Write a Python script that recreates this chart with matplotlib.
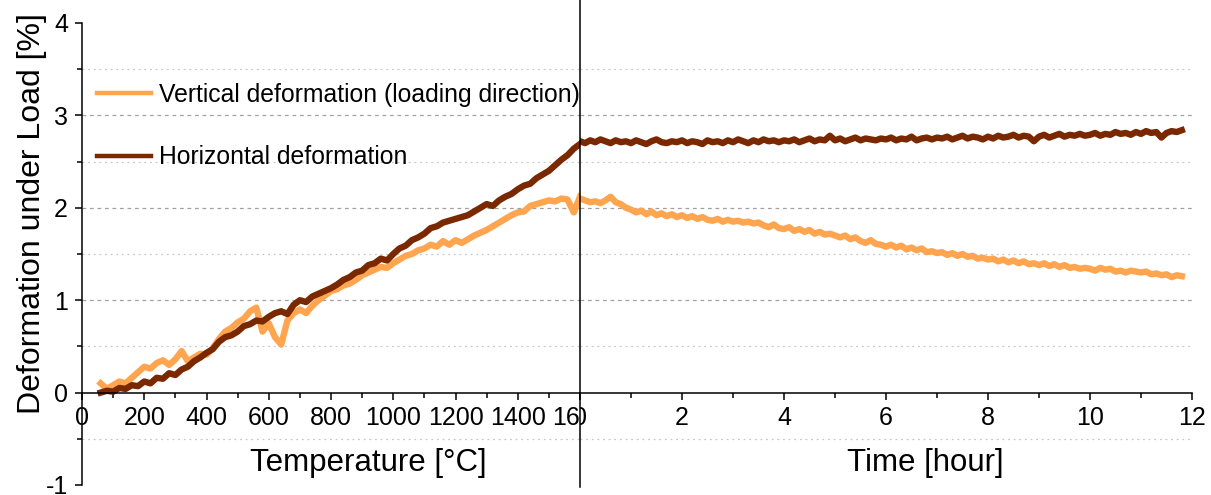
import numpy as np
import matplotlib
matplotlib.use('Agg')
import matplotlib.pyplot as plt
from matplotlib.ticker import MultipleLocator
from matplotlib.transforms import Bbox, TransformedBbox, blended_transform_factory

plt.rcParams['font.family'] = ['Liberation Sans', 'DejaVu Sans']
plt.rcParams['axes.unicode_minus'] = False

# heating stage: temperature [C] vs deformation [%]
temperature = np.arange(60, 1601, 20)
horizontal_temp = [0.00, 0.02, 0.01, 0.05, 0.04, 0.08, 0.07, 0.12, 0.10, 0.16,
                   0.15, 0.21, 0.19, 0.25, 0.28, 0.34, 0.38, 0.43, 0.47, 0.55,
                   0.60, 0.62, 0.66, 0.72, 0.74, 0.78, 0.77, 0.82, 0.86, 0.88,
                   0.85, 0.95, 1.00, 0.98, 1.04, 1.07, 1.10, 1.13, 1.17, 1.22,
                   1.25, 1.30, 1.32, 1.38, 1.40, 1.45, 1.43, 1.50, 1.56, 1.59,
                   1.65, 1.68, 1.72, 1.78, 1.80, 1.84, 1.86, 1.88, 1.90, 1.92,
                   1.96, 2.00, 2.04, 2.02, 2.08, 2.12, 2.15, 2.20, 2.24, 2.26,
                   2.32, 2.36, 2.40, 2.46, 2.52, 2.57, 2.64, 2.69]
vertical_temp = [0.10, 0.04, 0.08, 0.12, 0.10, 0.16, 0.22, 0.28, 0.26, 0.32,
                 0.35, 0.30, 0.36, 0.45, 0.34, 0.38, 0.42, 0.41, 0.48, 0.58,
                 0.66, 0.70, 0.76, 0.80, 0.88, 0.92, 0.66, 0.75, 0.60, 0.52,
                 0.78, 0.86, 0.90, 0.86, 0.94, 1.00, 1.05, 1.10, 1.12, 1.16,
                 1.18, 1.22, 1.27, 1.30, 1.33, 1.36, 1.35, 1.40, 1.44, 1.48,
                 1.50, 1.54, 1.56, 1.60, 1.58, 1.64, 1.60, 1.65, 1.62, 1.66,
                 1.70, 1.73, 1.76, 1.80, 1.84, 1.88, 1.92, 1.95, 1.96, 2.02,
                 2.04, 2.06, 2.08, 2.07, 2.10, 2.09, 1.95, 2.12]

# holding stage: time [hour] vs deformation [%]
time_h = np.round(np.arange(0, 11.85, 0.1), 1)
horizontal_time = [2.72, 2.70, 2.73, 2.71, 2.74, 2.72, 2.70, 2.73, 2.71, 2.72,
                   2.70, 2.73, 2.71, 2.69, 2.72, 2.74, 2.71, 2.70, 2.72, 2.71,
                   2.73, 2.70, 2.72, 2.71, 2.69, 2.73, 2.71, 2.72, 2.70, 2.73,
                   2.71, 2.74, 2.72, 2.70, 2.73, 2.71, 2.74, 2.72, 2.73, 2.71,
                   2.73, 2.72, 2.74, 2.71, 2.73, 2.75, 2.72, 2.74, 2.73, 2.78,
                   2.73, 2.75, 2.72, 2.74, 2.76, 2.73, 2.75, 2.74, 2.73, 2.75,
                   2.74, 2.76, 2.73, 2.75, 2.74, 2.77, 2.73, 2.75, 2.76, 2.74,
                   2.76, 2.75, 2.77, 2.74, 2.76, 2.78, 2.75, 2.77, 2.76, 2.74,
                   2.77, 2.75, 2.78, 2.76, 2.77, 2.79, 2.76, 2.78, 2.77, 2.72,
                   2.77, 2.79, 2.76, 2.78, 2.80, 2.77, 2.79, 2.78, 2.80, 2.78,
                   2.79, 2.81, 2.78, 2.80, 2.79, 2.82, 2.80, 2.81, 2.79, 2.82,
                   2.80, 2.83, 2.81, 2.82, 2.76, 2.81, 2.83, 2.82, 2.84]
vertical_time = [2.10, 2.08, 2.06, 2.07, 2.05, 2.08, 2.12, 2.06, 2.04, 2.00,
                 1.98, 1.95, 1.97, 1.93, 1.96, 1.92, 1.94, 1.91, 1.93, 1.90,
                 1.92, 1.89, 1.91, 1.88, 1.90, 1.87, 1.86, 1.88, 1.85, 1.87,
                 1.85, 1.86, 1.84, 1.85, 1.83, 1.84, 1.81, 1.79, 1.82, 1.78,
                 1.77, 1.79, 1.75, 1.77, 1.74, 1.76, 1.72, 1.74, 1.71, 1.72,
                 1.70, 1.68, 1.70, 1.66, 1.68, 1.64, 1.62, 1.65, 1.61, 1.60,
                 1.58, 1.60, 1.57, 1.59, 1.55, 1.57, 1.54, 1.56, 1.52, 1.53,
                 1.51, 1.52, 1.49, 1.51, 1.48, 1.50, 1.47, 1.48, 1.45, 1.46,
                 1.44, 1.45, 1.42, 1.44, 1.41, 1.43, 1.40, 1.42, 1.39, 1.40,
                 1.38, 1.40, 1.37, 1.39, 1.36, 1.38, 1.35, 1.36, 1.34, 1.35,
                 1.34, 1.32, 1.35, 1.33, 1.34, 1.31, 1.32, 1.30, 1.32, 1.31,
                 1.30, 1.31, 1.28, 1.29, 1.27, 1.28, 1.25, 1.27, 1.26]

major_grid = [1, 2, 3]
minor_grid = [-0.5, 0.5, 1.5, 2.5, 3.5]

orange = '#FFA54F'
brown = '#7A2800'
lw = 4.6

fig = plt.figure(figsize=(12.11, 4.95), dpi=100)
ax1 = fig.add_axes([82 / 1211, 10 / 495, 498 / 1211, 462 / 495])
ax2 = fig.add_axes([580 / 1211, 10 / 495, 612 / 1211, 462 / 495])

for ax in (ax1, ax2):
    ax.set_ylim(-1, 4)
    for g in major_grid:
        ax.axhline(g, color='#a0a0a0', lw=0.9, ls=(0, (3, 3)), zorder=0)
    for g in minor_grid:
        ax.axhline(g, color='#c8c8c8', lw=0.9, ls=(0, (1.5, 3)), zorder=0)
    ax.spines['top'].set_visible(False)
    ax.spines['right'].set_visible(False)
    ax.spines['bottom'].set_position(('data', 0))
    ax.spines['bottom'].set_linewidth(1.1)
    ax.spines['left'].set_linewidth(1.1)
    ax.tick_params(axis='both', which='major', direction='out', length=5,
                   width=1.1, labelsize=18, pad=5)
    ax.tick_params(axis='both', which='minor', direction='out', length=3.5,
                   width=1.1)

# left panel
ax1.plot(temperature, vertical_temp, color=orange, lw=lw,
         solid_joinstyle='round', label='Vertical deformation (loading direction)')
ax1.plot(temperature, horizontal_temp, color=brown, lw=lw,
         solid_joinstyle='round', label='Horizontal deformation')
ax1.set_xlim(0, 1600)
ax1.xaxis.set_major_locator(MultipleLocator(200))
ax1.xaxis.set_minor_locator(MultipleLocator(100))
ax1.yaxis.set_major_locator(MultipleLocator(1))
ax1.yaxis.set_minor_locator(MultipleLocator(0.5))
ax1.set_ylabel('Deformation under Load [%]', fontsize=23, va='center')
ax1.yaxis.set_label_coords(-0.1, 0.587)
ax1.text(0.574, -0.76, 'Temperature [°C]', fontsize=22.5, ha='center', va='center',
         transform=blended_transform_factory(ax1.transAxes, ax1.transData))

leg = ax1.legend(loc='upper left', bbox_to_anchor=(0.03, 0.87), frameon=False,
                 fontsize=17.8, handlelength=2.2, handletextpad=0.3,
                 labelspacing=1.55, borderpad=0, borderaxespad=0)
for h in leg.get_lines():
    h.set_linewidth(3.2)

# right panel
ax2.plot(time_h, vertical_time, color=orange, lw=lw, solid_joinstyle='round')
ax2.plot(time_h, horizontal_time, color=brown, lw=lw, solid_joinstyle='round')
ax2.set_xlim(0, 12)
ax2.xaxis.set_major_locator(MultipleLocator(2))
ax2.xaxis.set_minor_locator(MultipleLocator(1))
ax2.spines['left'].set_visible(False)
ax2.tick_params(axis='y', which='both', left=False, labelleft=False)
ax2.axvline(0, ymin=-0.005, ymax=1.05, color='black', lw=1.1, clip_on=False, zorder=5)
ax2.text(0.565, -0.76, 'Time [hour]', fontsize=22.5, ha='center', va='center',
         transform=blended_transform_factory(ax2.transAxes, ax2.transData))

# right panel tick labels are cut at the divider
clip = TransformedBbox(Bbox([[0, -0.1], [1.1, 1.1]]), ax2.transAxes)
for t in ax2.xaxis.get_major_ticks():
    t.label1.set_clip_on(True)
    t.label1.set_clip_box(clip)

fig.savefig('out.png', dpi=100)
